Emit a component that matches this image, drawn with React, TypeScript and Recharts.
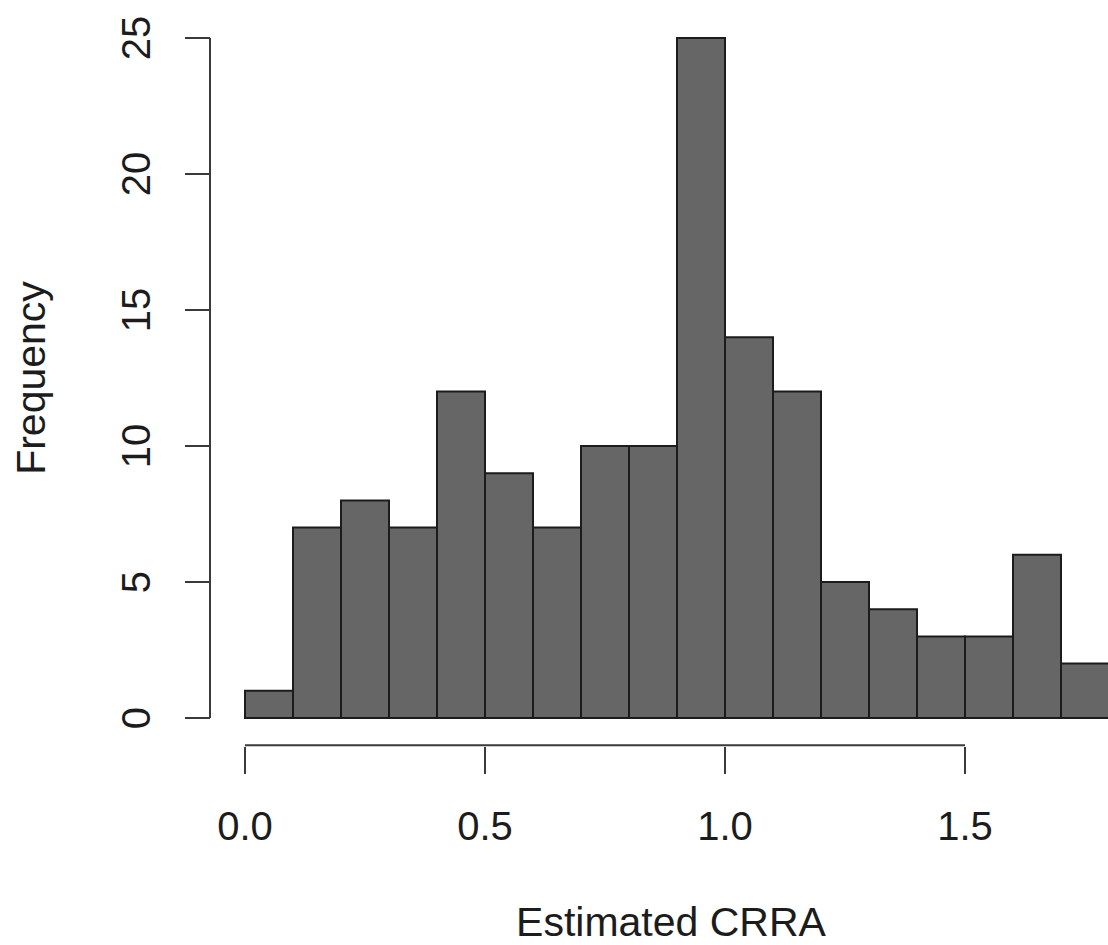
import { Bar, BarChart, ReferenceLine, XAxis, YAxis } from "recharts";

// histogram bins of width 0.1, starting at 0.0
const binStarts = [0, 0.1, 0.2, 0.3, 0.4, 0.5, 0.6, 0.7, 0.8, 0.9, 1.0, 1.1, 1.2, 1.3, 1.4, 1.5, 1.6, 1.7];
const counts = [1, 7, 8, 7, 12, 9, 7, 10, 10, 25, 14, 12, 5, 4, 3, 3, 6, 2];
const xTicks = [0, 0.5, 1.0, 1.5];
const yTicks = [0, 5, 10, 15, 20, 25];

const data = binStarts.map((start, i) => ({ bin: start.toFixed(1), start, count: counts[i] }));

const FONT = "'Liberation Sans', Arial, Helvetica, sans-serif";
const INK = "#1c1c1c";
const AXIS = "#3a3a3a";
const FONT_SIZE = 40;

// tick y lands on the axis baseline drawn by the reference line (≈745)
function XTick({ x, y, payload }: any) {
  return (
    <g>
      <line x1={x} x2={x} y1={y - 1} y2={y + 26} stroke={AXIS} strokeWidth={2} />
      <text x={x} y={y + 92} textAnchor="middle" fontFamily={FONT} fontSize={FONT_SIZE} fill={INK}>
        {Number(payload.value).toFixed(1)}
      </text>
    </g>
  );
}

function YTick({ x, y, payload }: any) {
  const bx = x - 35;
  return (
    <text
      x={bx}
      y={y}
      transform={`rotate(-90 ${bx} ${y})`}
      textAnchor="middle"
      fontFamily={FONT}
      fontSize={FONT_SIZE}
      fill={INK}
    >
      {payload.value}
    </text>
  );
}

export default function App() {
  return (
    <div style={{ position: "absolute", left: 0, top: 0, background: "#fff" }}>
      <BarChart
        width={1108}
        height={945}
        data={data}
        margin={{ top: 38, right: -1, bottom: 0, left: 0 }}
        barCategoryGap={0}
        barGap={0}
      >
        <XAxis xAxisId="bins" dataKey="bin" hide padding={{ left: 35, right: 0 }} />
        <XAxis
          xAxisId="crra"
          dataKey="start"
          type="number"
          domain={[0, 1.8]}
          ticks={xTicks}
          allowDataOverflow
          padding={{ left: 35, right: 0 }}
          height={227}
          axisLine={false}
          tickLine={false}
          tickSize={0}
          tickMargin={0}
          tick={<XTick />}
          interval={0}
          label={{
            content: () => (
              <text x={671} y={936} textAnchor="middle" fontFamily={FONT} fontSize={FONT_SIZE + 1} fill={INK}>
                Estimated CRRA
              </text>
            ),
          }}
        />
        <YAxis
          domain={[0, 25]}
          ticks={yTicks}
          width={210}
          interval={0}
          axisLine={{ stroke: AXIS, strokeWidth: 2 }}
          tickLine={{ stroke: AXIS, strokeWidth: 2 }}
          tickSize={25}
          tickMargin={0}
          tick={<YTick />}
          label={{
            content: () => (
              <text
                x={45}
                y={378}
                transform="rotate(-90 45 378)"
                textAnchor="middle"
                fontFamily={FONT}
                fontSize={FONT_SIZE + 1}
                fill={INK}
              >
                Frequency
              </text>
            ),
          }}
        />
        <Bar
          xAxisId="bins"
          dataKey="count"
          fill="#666666"
          stroke={INK}
          strokeWidth={2}
          isAnimationActive={false}
        />
        <ReferenceLine
          xAxisId="crra"
          segment={[
            { x: 0, y: -1 },
            { x: 1.5, y: -1 },
          ]}
          stroke={AXIS}
          strokeWidth={2}
          ifOverflow="visible"
        />
      </BarChart>
    </div>
  );
}
